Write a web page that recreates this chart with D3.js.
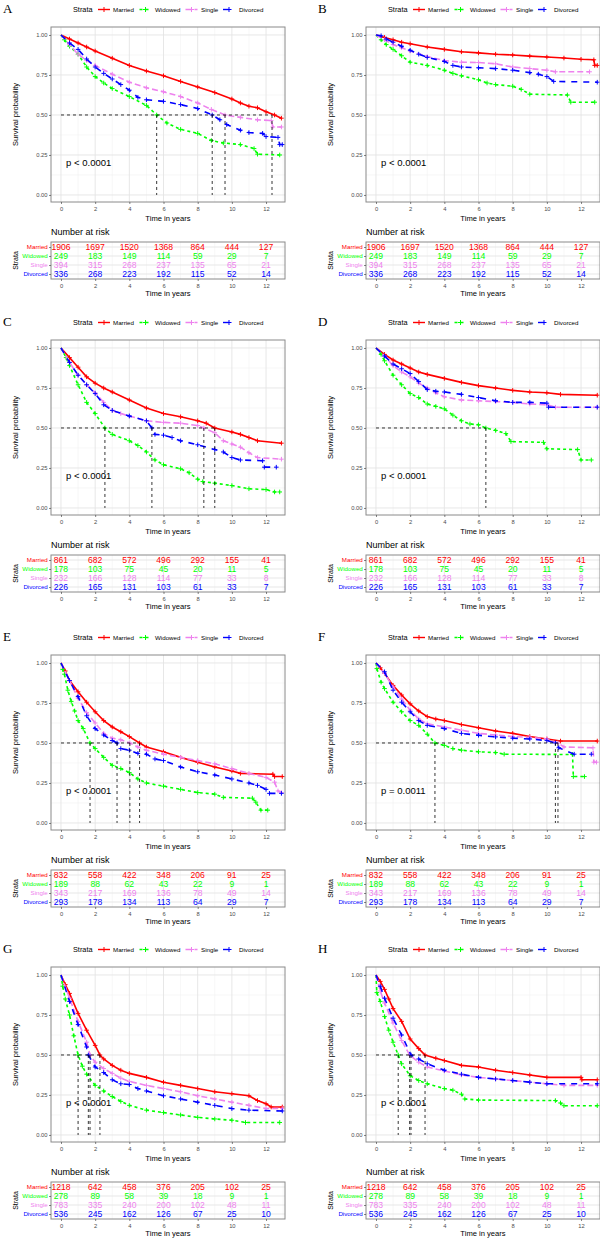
<!DOCTYPE html>
<html><head><meta charset="utf-8">
<script src="https://cdn.jsdelivr.net/npm/d3@7"></script>
<style>
body{margin:0;background:#fff}
text{font-family:"Liberation Sans",Arial,sans-serif}
</style>
</head><body><svg id="c" width="600" height="1239"></svg>
<script>
// ---------- data ----------
const strata = ["Married","Widowed","Single","Divorced"];
const strataColors = ["#FF0000","#00FF00","#EE82EE","#0000FF"];
const panelLabels = ["A","B","C","D","E","F","G","H"];
const pValues = ["p < 0.0001","p < 0.0001","p < 0.0001","p < 0.0001","p < 0.0001","p = 0.0011","p < 0.0001","p < 0.0001"];
const xTicks = [0,2,4,6,8,10,12];
const yTicks = [0,0.25,0.5,0.75,1];

// Survival curves [time, survival]
const A_Married = [[0,1],[0.5,0.975],[1,0.95],[1.5,0.925],[2,0.9],[3,0.855],[4,0.81],[5,0.775],[6,0.745],[7,0.71],[8,0.675],[9,0.64],[10,0.6],[10.5,0.575],[11,0.555],[11.5,0.545],[12,0.52],[12.5,0.5],[12.9,0.48]];
const A_Widowed = [[0,1],[0.2,0.97],[0.5,0.93],[1,0.88],[1.5,0.8],[2,0.74],[2.5,0.7],[3,0.665],[4,0.615],[5,0.56],[5.6,0.5],[6.2,0.45],[7,0.41],[8,0.385],[8.8,0.34],[9.5,0.325],[10.5,0.315],[11.3,0.29],[11.5,0.255],[12.8,0.25]];
const A_Single = [[0,1],[0.5,0.94],[1,0.88],[1.5,0.84],[2,0.81],[3,0.755],[4,0.705],[5,0.67],[6,0.645],[7,0.615],[8,0.575],[8.8,0.535],[9.6,0.5],[10.5,0.485],[11.5,0.47],[12.3,0.465],[12.4,0.425],[12.9,0.425]];
const A_Divorced = [[0,1],[0.5,0.95],[1,0.91],[1.5,0.85],[2,0.8],[2.5,0.76],[3,0.725],[3.5,0.69],[4,0.655],[4.5,0.61],[5,0.595],[6,0.585],[7,0.565],[8,0.54],[8.85,0.5],[9.3,0.47],[9.7,0.44],[10.5,0.405],[11,0.39],[11.8,0.385],[12,0.365],[12.7,0.36],[12.8,0.315],[12.95,0.315]];

const B_Married = [[0,1],[0.5,0.985],[1,0.97],[1.5,0.955],[2,0.945],[3,0.925],[4,0.91],[5,0.895],[6,0.888],[7,0.88],[8,0.875],[9,0.868],[10,0.862],[11,0.856],[12,0.848],[12.75,0.845],[12.8,0.81],[12.95,0.81]];
const B_Widowed = [[0,1],[0.3,0.97],[0.6,0.94],[1,0.91],[1.5,0.87],[2,0.83],[3,0.81],[4,0.78],[4.5,0.76],[5,0.745],[6,0.72],[6.5,0.7],[7,0.69],[8,0.68],[8.5,0.66],[9,0.63],[11.2,0.625],[11.4,0.58],[12.8,0.58]];
const B_Single = [[0,1],[0.5,0.97],[1,0.94],[1.5,0.92],[2,0.9],[3,0.865],[4,0.84],[5,0.83],[6,0.828],[7,0.82],[8,0.8],[9,0.79],[10,0.78],[10.5,0.77],[12.5,0.77]];
const B_Divorced = [[0,1],[0.3,0.995],[0.6,0.975],[1,0.955],[1.5,0.93],[2,0.905],[2.5,0.88],[3,0.86],[4,0.835],[4.5,0.81],[5,0.8],[6,0.795],[7,0.79],[8,0.78],[9,0.765],[9.5,0.755],[10,0.74],[10.4,0.71],[12.95,0.705]];

const C_Married = [[0,1],[0.5,0.94],[1,0.88],[1.5,0.82],[2,0.78],[2.5,0.75],[3,0.725],[4,0.675],[5,0.625],[6,0.59],[7,0.57],[8,0.545],[8.5,0.53],[9,0.5],[10,0.475],[10.5,0.46],[11,0.44],[11.5,0.42],[12.9,0.405]];
const C_Widowed = [[0,1],[0.3,0.94],[0.5,0.89],[1,0.77],[1.5,0.66],[2,0.59],[2.57,0.5],[3,0.46],[4,0.42],[4.5,0.39],[5,0.35],[5.5,0.3],[6,0.27],[7,0.245],[7.5,0.22],[8,0.18],[8.3,0.165],[9,0.155],[10,0.14],[11,0.12],[12,0.115],[12.5,0.1],[12.8,0.1]];
const C_Single = [[0,1],[0.5,0.91],[1,0.83],[1.5,0.77],[2,0.72],[2.5,0.66],[3,0.61],[3.5,0.59],[4,0.575],[5,0.545],[6,0.535],[7,0.53],[8,0.515],[8.36,0.5],[9,0.47],[9.5,0.42],[10,0.4],[10.5,0.38],[11,0.345],[11.5,0.315],[12.9,0.305]];
const C_Divorced = [[0,1],[0.5,0.91],[1,0.83],[1.5,0.77],[2,0.715],[2.5,0.645],[3,0.61],[4,0.575],[5,0.545],[5.32,0.5],[5.5,0.46],[6,0.455],[6.5,0.44],[7,0.42],[8,0.395],[9,0.365],[9.5,0.35],[10,0.315],[10.5,0.3],[11.8,0.295],[11.9,0.255],[12.6,0.255]];

const D_Married = [[0,1],[0.5,0.96],[1,0.925],[1.5,0.9],[2,0.875],[2.5,0.85],[3,0.835],[4,0.81],[5,0.785],[6,0.765],[7,0.75],[8,0.735],[9,0.725],[10,0.72],[10.8,0.71],[12.95,0.705]];
const D_Widowed = [[0,1],[0.3,0.96],[0.5,0.92],[1,0.83],[1.5,0.77],[2,0.715],[2.5,0.69],[3,0.65],[3.5,0.635],[4,0.62],[4.5,0.58],[5,0.545],[5.5,0.525],[6,0.52],[6.43,0.5],[7,0.485],[7.6,0.465],[7.9,0.415],[9.8,0.41],[10,0.37],[11.8,0.365],[12,0.3],[12.6,0.3]];
const D_Single = [[0,1],[0.5,0.95],[1,0.89],[1.5,0.85],[2,0.82],[2.5,0.78],[3,0.75],[3.5,0.72],[4,0.695],[5,0.675],[6,0.67],[7,0.665],[8,0.66],[9,0.65],[10,0.645],[10.5,0.63],[12.95,0.63]];
const D_Divorced = [[0,1],[0.5,0.95],[1,0.9],[1.5,0.87],[2,0.84],[2.5,0.79],[3,0.74],[3.5,0.73],[4,0.725],[5,0.71],[6,0.69],[7,0.67],[8,0.66],[9,0.66],[10,0.655],[10.1,0.63],[12.95,0.63]];

const E_Married = [[0,1],[0.25,0.95],[0.5,0.89],[1,0.82],[1.5,0.755],[2,0.695],[2.5,0.64],[3,0.6],[3.5,0.57],[4,0.54],[4.6,0.5],[5,0.475],[6,0.445],[7,0.41],[8,0.38],[9,0.35],[10,0.325],[10.5,0.31],[12.4,0.305],[12.5,0.29],[12.95,0.29]];
const E_Widowed = [[0,1],[0.1,0.96],[0.2,0.93],[0.4,0.83],[0.6,0.76],[0.8,0.7],[1,0.64],[1.3,0.59],[1.7,0.5],[2,0.465],[2.5,0.41],[3,0.36],[3.5,0.34],[4,0.315],[4.5,0.275],[5,0.25],[6,0.23],[7,0.21],[8,0.19],[9,0.18],[9.5,0.16],[11.2,0.155],[11.4,0.13],[11.7,0.08],[12.1,0.08]];
const E_Single = [[0,1],[0.5,0.89],[1,0.78],[1.5,0.69],[2,0.625],[2.5,0.56],[3,0.53],[3.5,0.52],[4.03,0.5],[4.5,0.475],[5,0.455],[6,0.43],[7,0.41],[8,0.39],[9,0.37],[10,0.34],[11,0.31],[12,0.285],[12.5,0.255],[12.7,0.2],[12.9,0.19]];
const E_Divorced = [[0,1],[0.5,0.89],[1,0.79],[1.5,0.67],[2,0.59],[2.5,0.55],[3,0.515],[3.28,0.5],[3.5,0.465],[4,0.455],[4.5,0.435],[5,0.43],[5.5,0.4],[6,0.39],[7,0.35],[8,0.32],[9,0.3],[10,0.275],[11,0.25],[11.5,0.235],[12,0.21],[12.2,0.185],[12.9,0.185]];

const F_Married = [[0,1],[0.25,0.97],[0.5,0.935],[1,0.86],[1.5,0.8],[2,0.745],[2.5,0.7],[3,0.665],[3.5,0.65],[4,0.64],[5,0.615],[6,0.595],[7,0.575],[8,0.56],[9,0.54],[10,0.525],[10.8,0.512],[12.95,0.512]];
const F_Widowed = [[0,1],[0.05,0.965],[0.3,0.88],[0.5,0.84],[1,0.755],[1.5,0.695],[2,0.64],[2.5,0.61],[3,0.555],[3.45,0.5],[4,0.485],[4.5,0.465],[5,0.455],[6,0.445],[7,0.44],[7.5,0.43],[11.5,0.428],[11.55,0.29],[12.2,0.29]];
const F_Single = [[0,1],[0.5,0.935],[1,0.85],[1.5,0.775],[2,0.705],[2.5,0.65],[3,0.62],[4,0.6],[5,0.58],[6,0.56],[7,0.55],[8,0.54],[9,0.535],[10,0.525],[10.65,0.5],[11,0.475],[12.7,0.47],[12.75,0.38],[12.9,0.38]];
const F_Divorced = [[0,1],[0.5,0.945],[1,0.83],[1.5,0.755],[2,0.695],[2.5,0.64],[3,0.61],[4,0.59],[5,0.56],[6,0.548],[7,0.538],[8,0.53],[9,0.525],[10,0.515],[10.5,0.5],[10.7,0.47],[11.6,0.43],[12.6,0.43]];

const G_Married = [[0,1],[0.25,0.94],[0.5,0.885],[1,0.76],[1.5,0.655],[2,0.56],[2.28,0.5],[2.5,0.475],[3,0.435],[3.5,0.405],[4,0.385],[5,0.36],[6,0.33],[7,0.31],[8,0.29],[9,0.27],[10,0.258],[11,0.245],[11.5,0.215],[12,0.195],[12.3,0.175],[12.95,0.175]];
const G_Widowed = [[0,1],[0.1,0.93],[0.25,0.85],[0.5,0.75],[0.75,0.62],[1,0.5],[1.25,0.43],[1.5,0.38],[2,0.31],[2.5,0.275],[3,0.24],[3.5,0.21],[4,0.185],[5,0.155],[6,0.14],[7,0.125],[8,0.11],[9,0.1],[10,0.092],[10.8,0.078],[12.8,0.078]];
const G_Single = [[0,1],[0.5,0.855],[1,0.71],[1.5,0.58],[1.7,0.5],[2,0.455],[2.5,0.415],[3,0.385],[3.5,0.355],[4,0.335],[5,0.31],[6,0.29],[7,0.27],[8,0.245],[9,0.225],[10,0.205],[11,0.185],[12,0.165],[12.95,0.165]];
const G_Divorced = [[0,1],[0.5,0.835],[1,0.69],[1.5,0.55],[1.6,0.5],[2,0.425],[2.5,0.39],[3,0.345],[3.5,0.32],[4,0.315],[4.5,0.29],[5,0.275],[6,0.245],[7,0.225],[8,0.205],[9,0.185],[10,0.165],[11,0.155],[12.95,0.15]];

const H_Married = [[0,1],[0.25,0.96],[0.5,0.91],[0.75,0.85],[1,0.79],[1.5,0.71],[2,0.6],[2.5,0.54],[2.87,0.5],[3.5,0.48],[4,0.465],[5,0.435],[6,0.425],[7,0.405],[8,0.39],[9,0.375],[10,0.36],[12,0.36],[12.05,0.345],[12.95,0.345]];
const H_Widowed = [[0,1],[0.05,0.89],[0.25,0.835],[0.5,0.74],[0.75,0.655],[1,0.58],[1.3,0.5],[1.5,0.445],[2,0.37],[2.5,0.34],[3,0.32],[4,0.29],[4.5,0.28],[5,0.255],[5.2,0.225],[6,0.218],[10.5,0.215],[10.8,0.2],[11,0.183],[12.95,0.183]];
const H_Single = [[0,1],[0.25,0.9],[0.5,0.825],[1,0.7],[1.5,0.59],[1.97,0.5],[2.5,0.455],[3,0.425],[4,0.4],[5,0.375],[6,0.36],[7,0.35],[8,0.34],[9,0.33],[10,0.32],[11,0.31],[12.95,0.31]];
const H_Divorced = [[0,1],[0.25,0.93],[0.5,0.855],[1,0.73],[1.5,0.625],[2.05,0.5],[2.5,0.475],[3,0.445],[4,0.405],[5,0.38],[6,0.36],[7,0.35],[8,0.34],[9,0.33],[10,0.32],[12.95,0.32]];

// Median survival times per panel
const A_medians = [5.6, 8.85, 9.6, 12.35];
const B_medians = [];
const C_medians = [2.57, 5.32, 8.36, 9.0];
const D_medians = [6.43];
const E_medians = [1.7, 3.28, 4.03, 4.6];
const F_medians = [3.45, 10.5, 10.65];
const G_medians = [1.0, 1.6, 1.7, 2.28];
const H_medians = [1.3, 1.97, 2.05, 2.87];

// Number at risk tables (at 0,2,...,12 years)
const risk1_Married = [1906,1697,1520,1368,864,444,127];
const risk1_Widowed = [249,183,149,114,59,29,7];
const risk1_Single = [394,315,268,237,135,65,21];
const risk1_Divorced = [336,268,223,192,115,52,14];
const risk2_Married = [861,682,572,496,292,155,41];
const risk2_Widowed = [178,103,75,45,20,11,5];
const risk2_Single = [232,166,128,114,77,33,8];
const risk2_Divorced = [226,165,131,103,61,33,7];
const risk3_Married = [832,558,422,348,206,91,25];
const risk3_Widowed = [189,88,62,43,22,9,1];
const risk3_Single = [343,217,169,136,78,49,14];
const risk3_Divorced = [293,178,134,113,64,29,7];
const risk4_Married = [1218,642,458,376,205,102,25];
const risk4_Widowed = [278,89,58,39,18,9,1];
const risk4_Single = [783,335,240,200,102,48,11];
const risk4_Divorced = [536,245,162,126,67,25,10];

const risk1 = [risk1_Married, risk1_Widowed, risk1_Single, risk1_Divorced];
const risk2 = [risk2_Married, risk2_Widowed, risk2_Single, risk2_Divorced];
const risk3 = [risk3_Married, risk3_Widowed, risk3_Single, risk3_Divorced];
const risk4 = [risk4_Married, risk4_Widowed, risk4_Single, risk4_Divorced];

const panels = [
  {curves:[A_Married,A_Widowed,A_Single,A_Divorced], medians:A_medians, risk:risk1},
  {curves:[B_Married,B_Widowed,B_Single,B_Divorced], medians:B_medians, risk:risk1},
  {curves:[C_Married,C_Widowed,C_Single,C_Divorced], medians:C_medians, risk:risk2},
  {curves:[D_Married,D_Widowed,D_Single,D_Divorced], medians:D_medians, risk:risk2},
  {curves:[E_Married,E_Widowed,E_Single,E_Divorced], medians:E_medians, risk:risk3},
  {curves:[F_Married,F_Widowed,F_Single,F_Divorced], medians:F_medians, risk:risk3},
  {curves:[G_Married,G_Widowed,G_Single,G_Divorced], medians:G_medians, risk:risk4},
  {curves:[H_Married,H_Widowed,H_Single,H_Divorced], medians:H_medians, risk:risk4}
];

// ---------- drawing ----------
const svg = d3.select("#c");
const colOff = [0, 315], rowOff = [0, 313, 628, 940];
const W = 234, H = 175;
const PL = 51, PT = 27, TT = 242, TH = 37;
const x = d3.scaleLinear().domain([-0.585, 13.11]).range([0, W]);
const y = d3.scaleLinear().domain([-0.044, 1.05]).range([H, 0]);
const yRow = d3.scalePoint().domain(strata).range([5, 32]);
const dashes = [null, "3,3", "6,3", "6,6"];
const gridMajor = "#e4e4e4", gridMinor = "#f1f1f1", borderCol = "#8a8a8a";
const line = d3.line().x(d => x(d[0])).y(d => y(d[1])).curve(d3.curveLinear);
const legendKeyX = [104, 145.5, 191.5, 229];
const legendTextX = [113, 155, 201, 239];

function styleAxis(a, fs) {
  a.select(".domain").remove();
  a.selectAll(".tick line").attr("stroke", "#333").attr("stroke-width", 0.6);
  a.selectAll(".tick text").attr("fill", "#4d4d4d").style("font-size", fs + "px")
    .style("font-family", "'Liberation Sans',Arial,sans-serif");
}

panels.forEach((p, i) => {
  const ox = colOff[i % 2], oy = rowOff[Math.floor(i / 2)];
  const g = svg.append("g").attr("transform", `translate(${ox},${oy})`);

  // panel letter
  g.append("text").attr("x", 3).attr("y", 13)
    .style("font-family", "'Liberation Serif','DejaVu Serif',serif")
    .style("font-size", "13px").text(panelLabels[i]);

  // legend
  g.append("text").attr("x", 73).attr("y", 12).style("font-size", "7.3px").text("Strata");
  strata.forEach((s, k) => {
    const kx = legendKeyX[k];
    g.append("line").attr("x1", kx - 6).attr("x2", kx + 6).attr("y1", 9.5).attr("y2", 9.5)
      .attr("stroke", strataColors[k]).attr("stroke-width", 1.4)
      .attr("stroke-dasharray", dashes[k]);
    g.append("path").attr("d", "M-2.5,0H2.5M0,-2.5V2.5").attr("transform", `translate(${kx},9.5)`)
      .attr("stroke", strataColors[k]).attr("stroke-width", 1);
    g.append("text").attr("x", legendTextX[k]).attr("y", 11.7).style("font-size", "6.2px").text(s);
  });

  // plot panel
  const pg = g.append("g").attr("transform", `translate(${PL},${PT})`);
  const xMinor = [1,3,5,7,9,11,13], yMinor = [0.125,0.375,0.625,0.875];
  pg.selectAll(".xm").data(xMinor).join("line").attr("x1", d => x(d)).attr("x2", d => x(d))
    .attr("y1", 0).attr("y2", H).attr("stroke", gridMinor).attr("stroke-width", 0.6);
  pg.selectAll(".ym").data(yMinor).join("line").attr("y1", d => y(d)).attr("y2", d => y(d))
    .attr("x1", 0).attr("x2", W).attr("stroke", gridMinor).attr("stroke-width", 0.6);
  pg.selectAll(".xM").data(xTicks).join("line").attr("x1", d => x(d)).attr("x2", d => x(d))
    .attr("y1", 0).attr("y2", H).attr("stroke", gridMajor).attr("stroke-width", 0.9);
  pg.selectAll(".yM").data(yTicks).join("line").attr("y1", d => y(d)).attr("y2", d => y(d))
    .attr("x1", 0).attr("x2", W).attr("stroke", gridMajor).attr("stroke-width", 0.9);

  // curves
  p.curves.forEach((c, k) => {
    pg.append("path").attr("d", line(c)).attr("fill", "none")
      .attr("stroke", strataColors[k]).attr("stroke-width", 1.6)
      .attr("stroke-dasharray", dashes[k]);
    pg.selectAll(null).data(c.slice(1)).join("path")
      .attr("d", "M-2.3,0H2.3M0,-2.3V2.3")
      .attr("transform", d => `translate(${x(d[0])},${y(d[1])})`)
      .attr("stroke", strataColors[k]).attr("stroke-width", 1);
  });

  // median lines
  if (p.medians.length) {
    const mx = d3.max(p.medians);
    pg.append("line").attr("x1", x(0)).attr("x2", x(mx)).attr("y1", y(0.5)).attr("y2", y(0.5))
      .attr("stroke", "#000").attr("stroke-width", 0.8).attr("stroke-dasharray", "3,3");
    pg.selectAll(null).data(p.medians).join("line")
      .attr("x1", d => x(d)).attr("x2", d => x(d)).attr("y1", y(0.5)).attr("y2", y(0))
      .attr("stroke", "#000").attr("stroke-width", 0.8).attr("stroke-dasharray", "3,3");
  }

  // p-value
  pg.append("text").attr("x", x(0.3)).attr("y", y(0.2)).attr("dy", "0.35em")
    .style("font-size", "9.5px").text(pValues[i]);

  // border
  pg.append("rect").attr("width", W).attr("height", H).attr("fill", "none")
    .attr("stroke", borderCol).attr("stroke-width", 1);

  // axes
  const ay = pg.append("g").call(d3.axisLeft(y).tickValues(yTicks).tickFormat(d3.format(".2f")).tickSize(2).tickPadding(1.5));
  styleAxis(ay, 5.8);
  const ax = pg.append("g").attr("transform", `translate(0,${H})`)
    .call(d3.axisBottom(x).tickValues(xTicks).tickSize(2).tickPadding(2.5));
  styleAxis(ax, 5.8);

  g.append("text").attr("x", PL + W / 2).attr("y", 221).attr("text-anchor", "middle")
    .style("font-size", "7.6px").text("Time in years");
  g.append("text").attr("transform", `translate(17.5,${PT + H / 2}) rotate(-90)`)
    .attr("text-anchor", "middle").style("font-size", "7.5px").text("Survival probability");

  // risk table
  g.append("text").attr("x", PL).attr("y", 235.3).style("font-size", "9px").text("Number at risk");
  const tg = g.append("g").attr("transform", `translate(${PL},${TT})`);
  tg.selectAll(".xm").data(xMinor).join("line").attr("x1", d => x(d)).attr("x2", d => x(d))
    .attr("y1", 0).attr("y2", TH).attr("stroke", gridMinor).attr("stroke-width", 0.6);
  tg.selectAll(".xM").data(xTicks).join("line").attr("x1", d => x(d)).attr("x2", d => x(d))
    .attr("y1", 0).attr("y2", TH).attr("stroke", gridMajor).attr("stroke-width", 0.9);
  tg.selectAll(".yM").data(strata).join("line").attr("y1", d => yRow(d)).attr("y2", d => yRow(d))
    .attr("x1", 0).attr("x2", W).attr("stroke", gridMajor).attr("stroke-width", 0.9);
  p.risk.forEach((row, k) => {
    tg.selectAll(null).data(row).join("text")
      .attr("x", (d, j) => x(xTicks[j])).attr("y", yRow(strata[k])).attr("dy", "0.36em")
      .attr("text-anchor", "middle").attr("fill", strataColors[k])
      .style("font-size", "8.6px").text(d => d);
  });
  tg.append("rect").attr("width", W).attr("height", TH).attr("fill", "none")
    .attr("stroke", borderCol).attr("stroke-width", 1);
  const ty = tg.append("g").call(d3.axisLeft(yRow).tickSize(2).tickPadding(1.2));
  styleAxis(ty, 6.2);
  ty.selectAll(".tick text").attr("fill", (d) => strataColors[strata.indexOf(d)]);
  const tx = tg.append("g").attr("transform", `translate(0,${TH})`)
    .call(d3.axisBottom(x).tickValues(xTicks).tickSize(2).tickPadding(2.5));
  styleAxis(tx, 5.8);
  g.append("text").attr("x", PL + W / 2).attr("y", 296).attr("text-anchor", "middle")
    .style("font-size", "7.6px").text("Time in years");
  g.append("text").attr("transform", `translate(17.5,${TT + TH / 2}) rotate(-90)`)
    .attr("text-anchor", "middle").style("font-size", "7px").text("Strata");
});
</script></body></html>
